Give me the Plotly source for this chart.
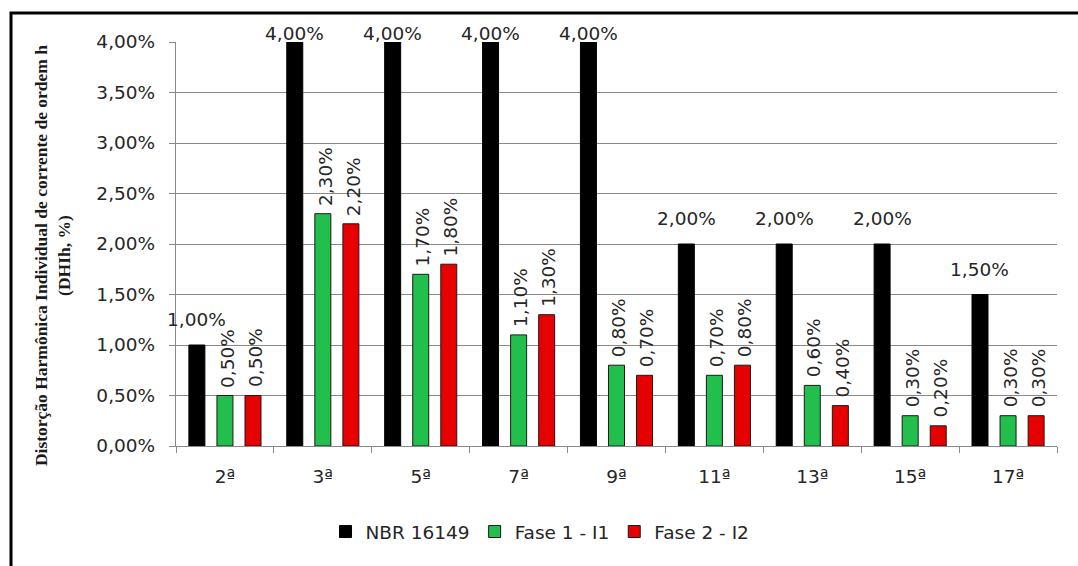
import plotly.graph_objects as go

# Harmonic orders and individual current distortion (% of fundamental)
harmonics = ["2ª", "3ª", "5ª", "7ª", "9ª", "11ª", "13ª", "15ª", "17ª"]
nbr_limit = [1.00, 4.00, 4.00, 4.00, 4.00, 2.00, 2.00, 2.00, 1.50]
fase1_i1 = [0.50, 2.30, 1.70, 1.10, 0.80, 0.70, 0.60, 0.30, 0.30]
fase2_i2 = [0.50, 2.20, 1.80, 1.30, 0.70, 0.80, 0.40, 0.20, 0.30]
y_ticks = [0.0, 0.5, 1.0, 1.5, 2.0, 2.5, 3.0, 3.5, 4.0]

# Figure geometry
W, H = 1078, 566
M_L, M_R, M_T, M_B = 176, 21, 42, 120
PLOT_W = W - M_L - M_R
PLOT_H = H - M_T - M_B
Y_MAX = 4.0
BARGAP = 0.14
BARGROUPGAP = 0.43
slot_px = PLOT_W / len(harmonics) * (1 - BARGAP) / 3

TXT = "#262626"
GRID = "#8a8a8a"
FONT = "DejaVu Sans"
FS = 18.5


def fmt(v):
    return f"{v:.2f}".replace(".", ",") + "%"


fig = go.Figure()
series = [
    ("NBR 16149", nbr_limit, "#000000", "#000000"),
    ("Fase 1 - I1", fase1_i1, "#22BF4D", "#1a1a1a"),
    ("Fase 2 - I2", fase2_i2, "#E60000", "#1a1a1a"),
]
for name, vals, fill, edge in series:
    fig.add_trace(go.Bar(
        x=harmonics, y=vals, name=name,
        marker=dict(color=fill, line=dict(color=edge, width=1)),
    ))

annotations = []
px_per_unit = PLOT_H / Y_MAX
for k, (name, vals, _, _) in enumerate(series):
    dx = (k - 1) * slot_px
    for cat, v in zip(harmonics, vals):
        bar_top_px = M_T + (Y_MAX - v) * px_per_unit
        if k == 0:
            # horizontal label above the bar, kept inside the chart area
            shift = min(13, bar_top_px - 46)
            annotations.append(dict(
                x=cat, y=v, xref="x", yref="y", text=fmt(v), showarrow=False,
                xshift=dx, yshift=shift, yanchor="bottom", xanchor="center",
                font=dict(family=FONT, size=FS, color=TXT),
            ))
        else:
            annotations.append(dict(
                x=cat, y=v, xref="x", yref="y", text=fmt(v), showarrow=False,
                xshift=dx + 2, yshift=6, yanchor="bottom", xanchor="center",
                textangle=-90,
                font=dict(family=FONT, size=FS, color=TXT),
            ))

# Y axis title (two lines, serif bold)
annotations.append(dict(
    x=(52 - M_L) / PLOT_W, y=0.47, xref="paper", yref="paper",
    text="<b>Distorção Harmônica Individual de corrente de ordem h<br>(DHIh, %)</b>",
    showarrow=False, textangle=-90, xanchor="center", yanchor="middle",
    font=dict(family="Liberation Serif", size=17.5, color="#1a1a1a"),
))

# Outer chart frame (top and left edges visible)
frame_x0 = (11 - M_L) / PLOT_W
frame_y1 = (H - M_B - 13) / PLOT_H
shapes = [dict(
    type="rect", xref="paper", yref="paper",
    x0=frame_x0, x1=1.2, y0=-0.6, y1=frame_y1,
    line=dict(color="#000000", width=3), fillcolor="rgba(0,0,0,0)", layer="above",
)]

fig.update_layout(
    width=W, height=H,
    margin=dict(l=M_L, r=M_R, t=M_T, b=M_B, autoexpand=False),
    paper_bgcolor="white", plot_bgcolor="white",
    separators=",.",
    barmode="group", bargap=BARGAP, bargroupgap=BARGROUPGAP,
    font=dict(family=FONT, size=FS, color=TXT),
    showlegend=True,
    legend=dict(
        orientation="h", x=(540 - M_L) / PLOT_W, xanchor="center",
        y=(H - M_B - 532) / PLOT_H, yanchor="middle",
        font=dict(family=FONT, size=FS, color=TXT),
        itemclick=False, traceorder="normal",
    ),
    annotations=annotations,
    shapes=shapes,
)
fig.update_yaxes(
    range=[0, Y_MAX], autorange=False,
    tickvals=y_ticks, ticktext=[fmt(t) for t in y_ticks],
    showgrid=True, gridcolor=GRID, gridwidth=1.3,
    showline=True, linecolor=GRID, linewidth=1.3,
    ticks="outside", ticklen=6, tickcolor=GRID, zeroline=False,
    ticklabelstandoff=10,
    tickfont=dict(family=FONT, size=FS, color=TXT),
)
fig.update_xaxes(
    range=[-0.5, len(harmonics) - 0.5], autorange=False,
    showline=True, linecolor=GRID, linewidth=1.3,
    ticks="outside", ticklen=6, tickcolor=GRID, tickson="boundaries",
    ticklabelstandoff=14,
    tickfont=dict(family=FONT, size=FS, color=TXT),
)

fig.write_html("out.html")
